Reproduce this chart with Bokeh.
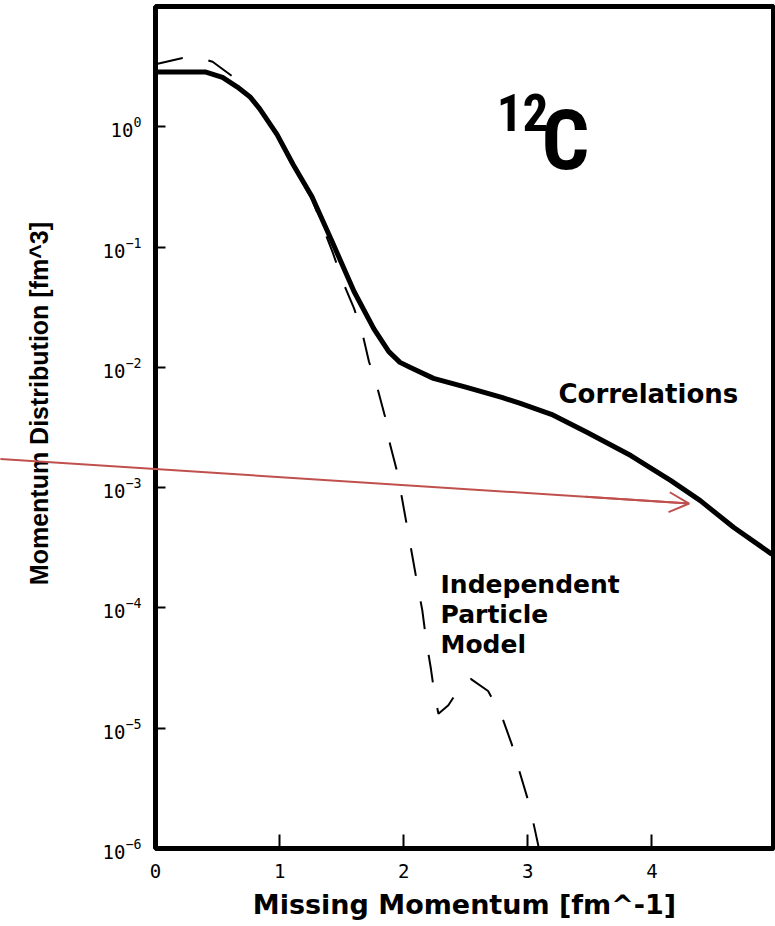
from bokeh.plotting import figure
from bokeh.models import Label, Arrow, OpenHead, FixedTicker, Range1d
from bokeh.core.properties import value
from bokeh.embed import file_html
from bokeh.resources import INLINE
import math

# Momentum distribution of 12C versus missing momentum k [fm^-1], n(k) in fm^3
# Full calculation including short-range correlations (solid)
corr_k = [0.0, 0.40, 0.54, 0.66, 0.76, 0.84, 0.98, 1.11, 1.26, 1.43, 1.60, 1.76,
          1.88, 1.97, 2.05, 2.24, 2.50, 2.79, 2.94, 3.19, 3.48, 3.83, 4.15, 4.39,
          4.66, 4.96, 5.00]
corr_n = [2.86, 2.86, 2.57, 2.14, 1.78, 1.41, 0.86, 0.484, 0.263, 0.107, 0.0427, 0.0209,
          0.0135, 0.0110, 0.0100, 0.0081, 0.00684, 0.00562, 0.00501, 0.00407, 0.00287,
          0.00185, 0.00115, 0.00078, 0.000466, 0.000283, 0.000269]

# Independent particle (mean-field) model (dashed)
ipm_k = [0.0, 0.21, 0.35, 0.46, 0.66, 0.84, 0.98, 1.11, 1.26, 1.43, 1.51, 1.60, 1.67,
         1.72, 1.79, 1.85, 1.89, 1.95, 1.99, 2.03, 2.07, 2.11, 2.15, 2.18, 2.22, 2.25,
         2.28, 2.36, 2.48, 2.54, 2.68, 2.79, 2.87, 2.93, 3.00, 3.05, 3.09, 3.12]
ipm_n = [3.31, 3.72, 3.76, 3.47, 2.45, 1.38, 0.832, 0.468, 0.251, 0.0891, 0.0513, 0.0309,
         0.0186, 0.0112, 0.00661, 0.00389, 0.00229, 0.00132, 7.76e-4, 4.57e-4, 2.69e-4,
         1.58e-4, 9.55e-5, 5.50e-5, 3.09e-5, 1.86e-5, 1.32e-5, 1.55e-5, 2.40e-5, 2.57e-5,
         2.04e-5, 1.26e-5, 7.41e-6, 4.47e-6, 2.57e-6, 1.55e-6, 1.0e-6, 6.3e-7]

x_ticks = [0, 1, 2, 3, 4]
y_ticks = [1e-6, 1e-5, 1e-4, 1e-3, 1e-2, 1e-1, 1e0]

x_title = "Missing Momentum [fm^-1]"
y_title = "Momentum Distribution [fm^3]"
ipm_lines = ["Independent", "Particle", "Model"]

# pointer arrow: tail (left page edge) and tip
arrow_tail = (-1.25, 1.73e-3)
arrow_tip = (4.30, 7.38e-4)

p = figure(width=775, height=926, y_axis_type="log",
           x_range=Range1d(0, 4.98), y_range=Range1d(1e-6, 1e1),
           output_backend="svg", toolbar_location=None,
           min_border_left=155, min_border_right=2,
           min_border_top=6, min_border_bottom=78)

p.background_fill_color = "white"
p.border_fill_color = "white"
p.grid.grid_line_color = None
p.outline_line_color = "black"
p.outline_line_width = 5

for ax in (p.xaxis[0], p.yaxis[0]):
    ax.axis_line_color = None
    ax.major_tick_out = 0
    ax.major_tick_line_width = 2
    ax.major_tick_line_color = "black"
    ax.minor_tick_line_color = None
    ax.major_label_text_font = "DejaVu Sans Mono"
    ax.major_label_text_font_size = "19px"
    ax.major_label_text_color = "black"

p.xaxis.ticker = FixedTicker(ticks=x_ticks)
p.yaxis.ticker = FixedTicker(ticks=y_ticks)
p.xaxis.major_tick_in = 14
p.yaxis.major_tick_in = 10
p.xaxis.major_label_standoff = 15
p.yaxis.major_label_standoff = 14

p.xaxis.axis_label = x_title
p.xaxis.axis_label_text_font = "DejaVu Sans"
p.xaxis.axis_label_text_font_style = "bold"
p.xaxis.axis_label_text_font_size = "27px"
p.xaxis.axis_label_text_color = "black"
p.xaxis.axis_label_standoff = 8

# vertical title in the left margin (drawn above the frame so it is not clipped)
p.text(x=[-0.935], y=[10 ** -2.301], text=[y_title], angle=math.pi / 2,
       text_align="center", text_baseline="middle",
       text_font=value("Liberation Sans"), text_font_style="bold",
       text_font_size="25px", text_color="black", level="overlay")

# curves
p.line(ipm_k, ipm_n, line_color="black", line_width=2, line_dash="28 26")
p.line(corr_k, corr_n, line_color="black", line_width=5, line_join="round")

# text annotations
p.add_layout(Label(x=3.247, y=0.00605, text="Correlations",
                   text_font="DejaVu Sans", text_font_style="bold",
                   text_font_size="26px", text_color="black", text_baseline="alphabetic"))

ipm_top = -3.805
for i, line in enumerate(ipm_lines):
    p.add_layout(Label(x=2.297, y=10 ** (ipm_top - 0.25 * i), text=line,
                       text_font="DejaVu Sans", text_font_style="bold",
                       text_font_size="25px", text_color="black",
                       text_baseline="alphabetic"))

narrow = "Liberation Sans Narrow, Roboto Condensed, Liberation Sans"
p.add_layout(Label(x=2.75, y=1.32, text="12", text_font=narrow, text_font_style="bold",
                   text_font_size="51px", text_color="black", text_baseline="alphabetic"))
p.add_layout(Label(x=3.11, y=0.767, text="C", text_font=narrow, text_font_style="bold",
                   text_font_size="84px", text_color="black", text_baseline="alphabetic"))

# pointer arrow: shaft as an overlay line, head as an arrow annotation
p.line([arrow_tail[0], arrow_tip[0]], [arrow_tail[1], arrow_tip[1]],
       line_color="#c0504d", line_width=2, level="overlay")
f = 0.85
head_from_x = arrow_tail[0] + f * (arrow_tip[0] - arrow_tail[0])
head_from_y = 10 ** (math.log10(arrow_tail[1])
                     + f * (math.log10(arrow_tip[1]) - math.log10(arrow_tail[1])))
p.add_layout(Arrow(x_start=head_from_x, y_start=head_from_y,
                   x_end=arrow_tip[0], y_end=arrow_tip[1],
                   line_color="#c0504d", line_width=2,
                   end=OpenHead(size=20, line_color="#c0504d", line_width=2)))

open("out.html", "w").write(file_html(p, INLINE))
